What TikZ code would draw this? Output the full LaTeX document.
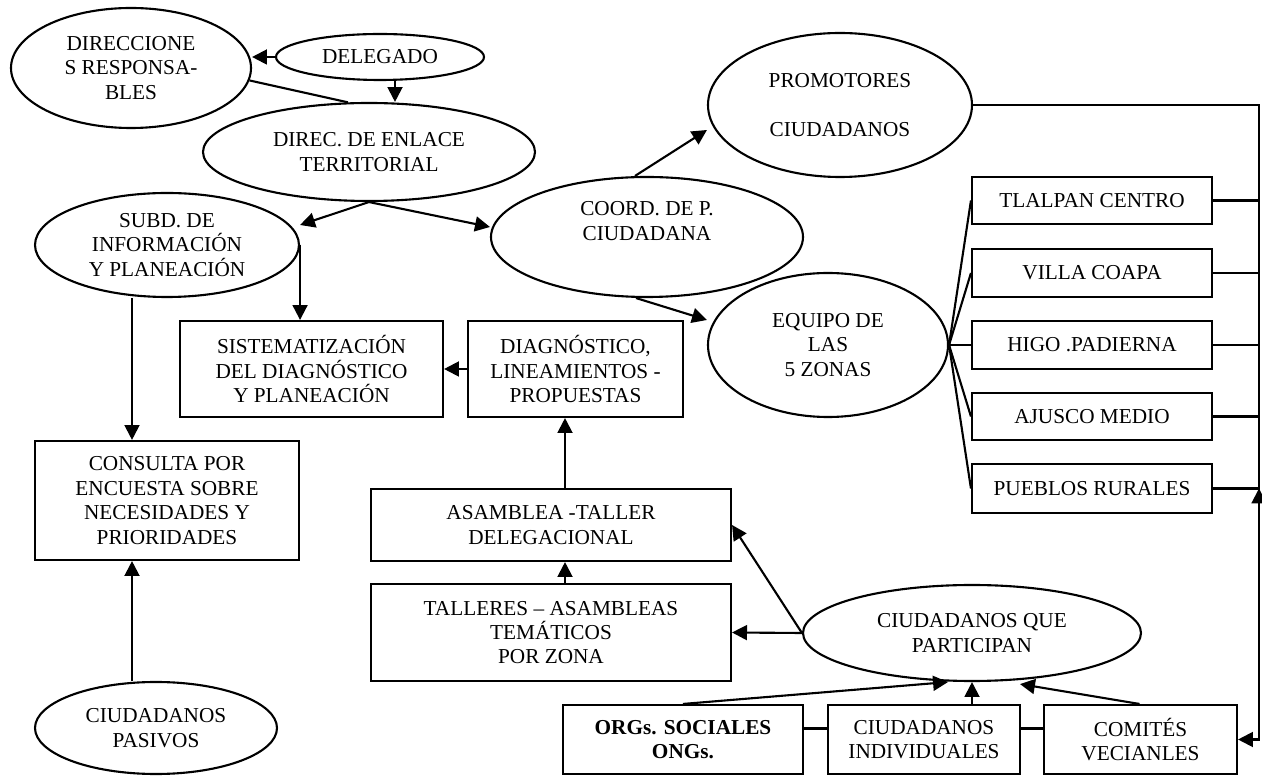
\documentclass[tikz,border=0pt]{standalone}
\usepackage{fontspec}
\setmainfont{Liberation Serif}
\usetikzlibrary{shapes.geometric,arrows.meta,calc}

\begin{document}
\begin{tikzpicture}[x=0.02cm,y=-0.02cm,
  every node/.style={font=\fontsize{12.1}{13.9}\selectfont, align=center, inner sep=0pt},
  oval/.style 2 args={draw, ellipse, line width=1.2pt, minimum width=#1*0.02cm, minimum height=#2*0.02cm},
  box/.style 2 args={draw, rectangle, line width=1.2pt, minimum width=#1*0.02cm, minimum height=#2*0.02cm},
  arr/.style={-{Triangle[length=8.5pt,width=8.5pt]}, line width=1.2pt},
  link/.style={line width=1.2pt}]
\useasboundingbox (0,0) rectangle (1262,776);

% upper organisation chart
\node[oval={240}{120}] (dirs) at (131,68) {DIRECCIONE\\S RESPONSA-\\BLES};
\node[oval={208}{46}] (dele) at (380,57) {DELEGADO};
\node[oval={332}{98}] (dire) at (369,152) {DIREC. DE ENLACE\\TERRITORIAL};
\node[oval={264}{144}] (prom) at (840,105) {PROMOTORES\\[13.9pt]CIUDADANOS};
\node[oval={264}{104}] (subd) at (167,245) {SUBD. DE\\INFORMACIÓN\\Y PLANEACIÓN};
\node[oval={312}{120}] (coord) at (647,237) {COORD. DE P.\\CIUDADANA\\\strut};
\node[oval={240}{144}] (equipo) at (828,345) {EQUIPO DE\\LAS\\5 ZONAS};

% the five zones
\node[box={240}{47}] (tlal) at (1092,200.5) {TLALPAN CENTRO};
\node[box={240}{48}] (villa) at (1092,273) {VILLA COAPA};
\node[box={240}{48}] (higo) at (1092,345) {HIGO .PADIERNA};
\node[box={240}{47}] (ajus) at (1092,416.5) {AJUSCO MEDIO};
\node[box={240}{49}] (pueb) at (1092,488.5) {PUEBLOS RURALES};

% diagnosis and planning
\node[box={263}{96}] (sist) at (311.5,369) {SISTEMATIZACIÓN\\DEL DIAGNÓSTICO\\Y PLANEACIÓN};
\node[box={215}{96}] (diag) at (575.5,369) {DIAGNÓSTICO,\\LINEAMIENTOS -\\PROPUESTAS};
\node[box={264}{119}] (cons) at (167,500.5) {CONSULTA POR\\ENCUESTA SOBRE\\NECESIDADES Y\\PRIORIDADES};
\node[oval={242}{92}] (pasi) at (156,728) {CIUDADANOS\\PASIVOS};
\node[box={360}{72}] (asam) at (551,525) {ASAMBLEA -TALLER\\DELEGACIONAL};
\node[box={360}{97}] (tall) at (551,632.5) {TALLERES – ASAMBLEAS\\TEMÁTICOS\\POR ZONA};

% participating citizens
\node[oval={338}{96}] (cqp) at (972,633) {CIUDADANOS QUE\\PARTICIPAN};
\node[box={240}{69}, font=\fontsize{12.1}{13.9}\selectfont\bfseries] (orgs) at (683,739.5) {ORGs. SOCIALES\\ONGs.};
\node[box={192}{69}] (cind) at (924,739.5) {CIUDADANOS\\INDIVIDUALES};
\node[box={193}{69}] (comi) at (1140.5,739.5) {COMITÉS\\VECIANLES};

% helper points
\coordinate (rail) at (1259,0);
\coordinate (d1) at ($(dele.south)+(15,0)$);
\coordinate (s1) at ($(subd.south)+(-35,0)$);
\coordinate (c1) at ($(cons.south)+(-35,0)$);
\coordinate (a1) at ($(asam.north)+(14,0)$);
\coordinate (t1) at ($(tall.north)+(14,0)$);

% top connectors
\draw[arr] (dele.west) -- (dele.west -| dirs.east);
\draw[arr] (d1) -- (d1 |- dire.north);
\draw[link] (dirs.-6) -- (dire.113.6);
\draw[arr] (dire.south) -- ($(subd.east)+(0,-20)$);
\draw[arr] (dire.south) -- ($(coord.west)+(0,-10)$);
\draw[arr] ($(coord.north)+(-12,0)$) -- ($(prom.west)+(0,25)$);
\draw[arr] ($(coord.south)+(-11,0)$) -- ($(equipo.west)+(0,-25)$);

% left column
\draw[arr] (subd.east) -- (subd.east |- sist.north);
\draw[arr] (s1) -- (s1 |- cons.north);
\draw[arr] (c1 |- pasi.north) -- (c1);
\draw[arr] (diag.west) -- (sist.east);
\draw[arr] (a1) -- (a1 |- diag.south);
\draw[arr] (t1) -- (t1 |- asam.south);

% zones fan
\foreach \z in {tlal,villa,higo,ajus,pueb}{
  \draw[link] (equipo.east) -- (\z.west);
  \draw[link] (\z.east) -- (\z.east -| rail);
}

% right rail
\draw[arr] (prom.east) -- (prom.east -| rail) |- (comi.east);
\draw[arr] (comi.east -| rail) -- (pueb.east -| rail);

% participating citizens
\draw[arr] (cqp.west) -- (tall.east);
\draw[arr] (cqp.west) -- (asam.east);
\draw[arr] (orgs.north) -- ($(cqp.south)+(-24,0)$);
\draw[arr] (cqp.south |- cind.north) -- (cqp.south);
\draw[arr] ($(comi.north)+(-1,0)$) -- ($(cqp.south)+(48,2)$);
\draw[link] ($(orgs.east)+(0,-11)$) -- ($(cind.west)+(0,-11)$);
\draw[link] ($(cind.east)+(0,-11)$) -- ($(comi.west)+(0,-11)$);
\end{tikzpicture}
\end{document}
